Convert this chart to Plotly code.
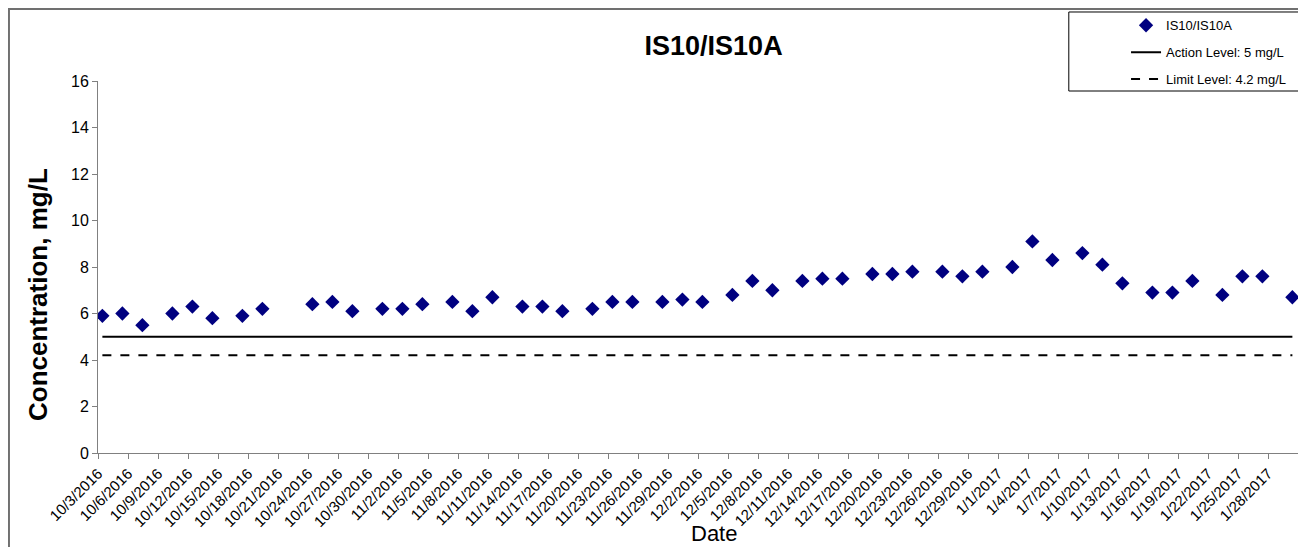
import pandas as pd
import plotly.graph_objects as go

# sampling dates (sample taken mid-morning) and concentration, mg/L
sample_dates = [
    "2016-10-03", "2016-10-05", "2016-10-07", "2016-10-10", "2016-10-12", "2016-10-14",
    "2016-10-17", "2016-10-19", "2016-10-24", "2016-10-26", "2016-10-28", "2016-10-31",
    "2016-11-02", "2016-11-04", "2016-11-07", "2016-11-09", "2016-11-11", "2016-11-14",
    "2016-11-16", "2016-11-18", "2016-11-21", "2016-11-23", "2016-11-25", "2016-11-28",
    "2016-11-30", "2016-12-02", "2016-12-05", "2016-12-07", "2016-12-09", "2016-12-12",
    "2016-12-14", "2016-12-16", "2016-12-19", "2016-12-21", "2016-12-23", "2016-12-26",
    "2016-12-28", "2016-12-30", "2017-01-02", "2017-01-04", "2017-01-06", "2017-01-09",
    "2017-01-11", "2017-01-13", "2017-01-16", "2017-01-18", "2017-01-20", "2017-01-23",
    "2017-01-25", "2017-01-27", "2017-01-30",
]
sample_time = "10:30"
concentration = [
    5.9, 6.0, 5.5, 6.0, 6.3, 5.8,
    5.9, 6.2, 6.4, 6.5, 6.1, 6.2,
    6.2, 6.4, 6.5, 6.1, 6.7, 6.3,
    6.3, 6.1, 6.2, 6.5, 6.5, 6.5,
    6.6, 6.5, 6.8, 7.4, 7.0, 7.4,
    7.5, 7.5, 7.7, 7.7, 7.8, 7.8,
    7.6, 7.8, 8.0, 9.1, 8.3, 8.6,
    8.1, 7.3, 6.9, 6.9, 7.4, 6.8,
    7.6, 7.6, 6.7,
]
action_level = 5.0
limit_level = 4.2

axis_start = "2016-10-03"
axis_end = "2017-01-31"
tick_step_days = 3

x = pd.to_datetime([d + " " + sample_time for d in sample_dates])
tick_dates = pd.date_range(axis_start, axis_end, freq="%dD" % tick_step_days)
tick_text = ["%d/%d/%d" % (t.month, t.day, t.year) for t in tick_dates]
tick_text[-1] = ""

FONT = "Liberation Sans, Arial, sans-serif"

fig = go.Figure()
fig.add_trace(
    go.Scatter(
        x=x,
        y=concentration,
        mode="markers",
        name="IS10/IS10A",
        legendgroup="a",
        marker=dict(symbol="diamond", size=11, color="#000080"),
    )
)
fig.add_trace(
    go.Scatter(
        x=[x[0], x[-1]],
        y=[action_level, action_level],
        mode="lines",
        name="Action Level: 5 mg/L",
        legendgroup="b",
        line=dict(color="black", width=2),
    )
)
fig.add_trace(
    go.Scatter(
        x=[x[0], x[-1]],
        y=[limit_level, limit_level],
        mode="lines",
        name="Limit Level: 4.2 mg/L",
        legendgroup="c",
        line=dict(color="black", width=2, dash="dash"),
    )
)

fig.update_xaxes(
    range=[pd.Timestamp(axis_start), pd.Timestamp(axis_end)],
    tickvals=tick_dates,
    ticktext=tick_text,
    tickangle=-45,
    ticks="outside",
    ticklen=5,
    tickcolor="#808080",
    showline=True,
    linecolor="#808080",
    linewidth=1,
    showgrid=False,
    zeroline=False,
    automargin=False,
    tickfont=dict(family=FONT, size=15, color="black"),
)
fig.update_yaxes(
    range=[0, 16],
    dtick=2,
    ticks="outside",
    ticklen=5,
    tickcolor="#808080",
    showline=True,
    linecolor="#808080",
    linewidth=1,
    showgrid=False,
    zeroline=False,
    automargin=False,
    tickfont=dict(family=FONT, size=16, color="black"),
)

# axis titles (Excel places them slightly off the plot centre)
fig.add_annotation(
    text="Date", xref="paper", yref="paper", x=0.513, y=-0.2177,
    xanchor="center", yanchor="middle",
    showarrow=False, font=dict(family=FONT, size=22, color="black"),
)
fig.add_annotation(
    text="<b>Concentration, mg/L</b>", xref="paper", yref="paper", x=-0.05, y=0.4247,
    xanchor="center", yanchor="middle", textangle=-90,
    showarrow=False, font=dict(family=FONT, size=26, color="black"),
)

# outer chart frame
fig.add_shape(
    type="rect", xref="paper", yref="paper",
    x0=-0.0742, x1=1.2, y0=-0.5, y1=1.1935,
    line=dict(color="#707070", width=2), layer="below",
)
# legend frame
fig.add_shape(
    type="rect", xref="paper", yref="paper",
    x0=0.809, x1=1.05, y0=0.9731, y1=1.1855,
    line=dict(color="black", width=1), fillcolor="white", layer="below",
)

fig.update_layout(
    width=1290,
    height=539,
    margin=dict(l=90, r=0, t=73, b=94),
    plot_bgcolor="white",
    paper_bgcolor="white",
    font=dict(family=FONT, color="black"),
    title=dict(
        text="<b>IS10/IS10A</b>",
        x=0.513,
        xref="paper",
        y=0.931,
        yref="container",
        xanchor="center",
        yanchor="middle",
        font=dict(family=FONT, size=27, color="black"),
    ),
    legend=dict(
        x=0.8567,
        y=1.19,
        xanchor="left",
        yanchor="top",
        borderwidth=0,
        bgcolor="rgba(0,0,0,0)",
        font=dict(family=FONT, size=13, color="black"),
        tracegroupgap=7,
    ),
    showlegend=True,
)

fig.write_html("out.html")
